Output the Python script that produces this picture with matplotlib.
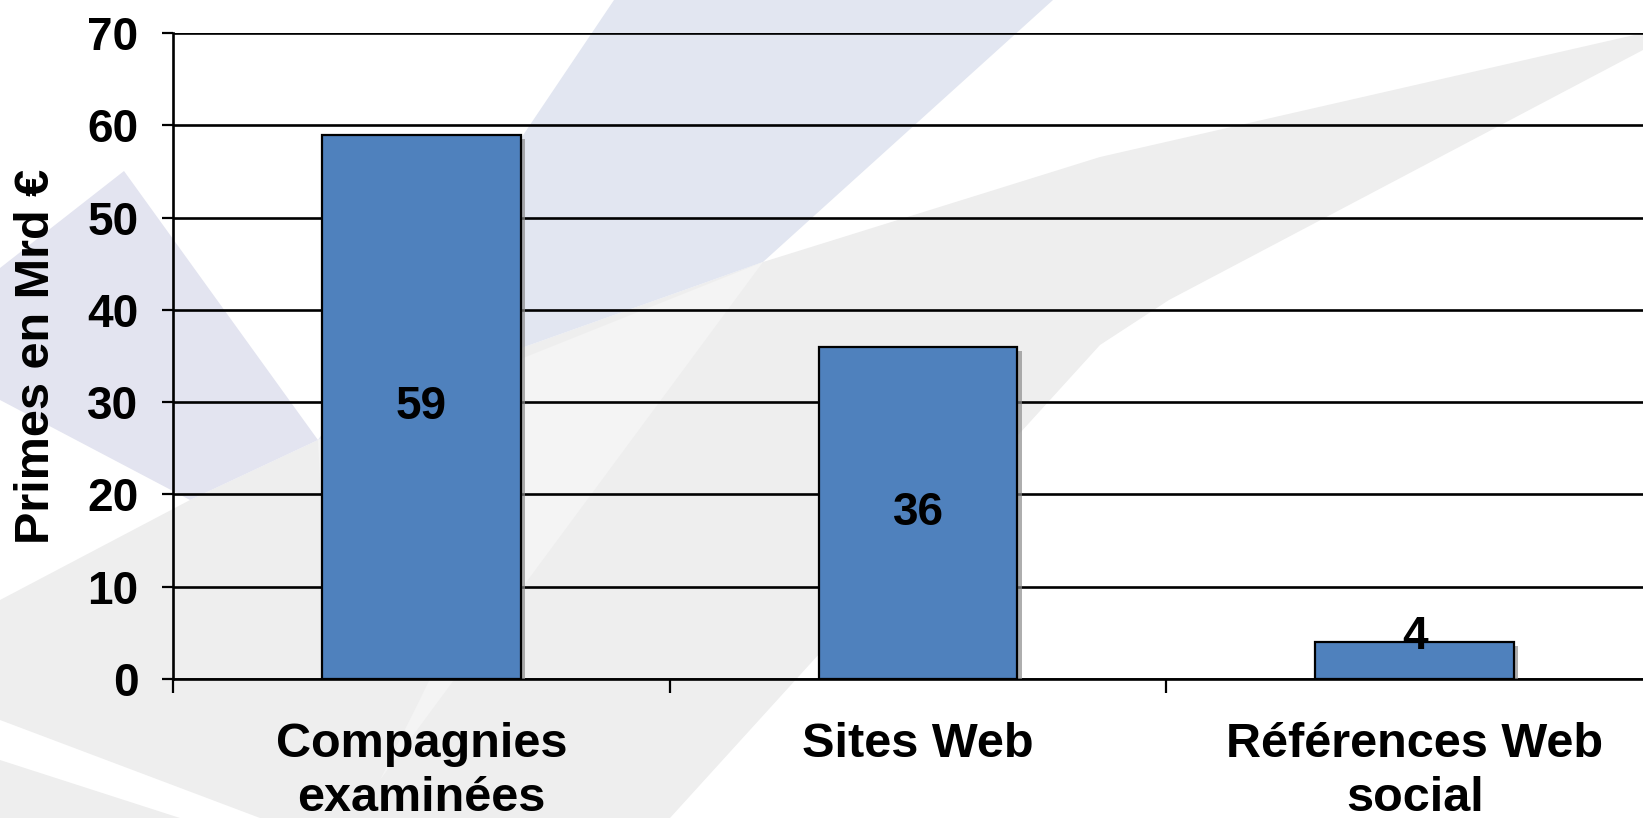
import matplotlib
matplotlib.use("Agg")
import matplotlib.pyplot as plt
import matplotlib.patheffects as pe
from matplotlib.patches import Polygon

# data
categories = ["Compagnies\nexaminées", "Sites Web", "Références Web\nsocial"]
values = [59, 36, 4]
value_labels = ["59", "36", "4"]
yticks = [0, 10, 20, 30, 40, 50, 60, 70]

W, H = 1643, 818
plt.rcParams["font.family"] = ["Liberation Sans", "DejaVu Sans"]
plt.rcParams["font.weight"] = "bold"

fig = plt.figure(figsize=(W / 100, H / 100), dpi=100, facecolor="white")


def px(points):
    # pixel coords (y down) -> figure fraction
    return [(x / W, 1 - y / H) for x, y in points]


# decorative background swooshes
bg_shapes = [
    ([(0, 600), (190, 500), (318, 440), (527, 346), (763, 262), (1100, 157), (1643, 33),
      (1643, 50), (1169, 300), (1100, 345), (670, 818), (260, 818), (0, 720)], "#eeeeee"),
    ([(0, 760), (0, 818), (180, 818)], "#eeeeee"),
    ([(0, 268), (124, 171), (318, 440), (190, 500), (0, 400)], "#e3e4f0"),
    ([(614, 0), (1053, 0), (763, 262), (527, 346), (318, 440)], "#e2e6f1"),
    ([(763, 262), (318, 440), (330, 679), (430, 679), (380, 780)], "#f4f4f4"),
]
for pts, col in bg_shapes:
    fig.add_artist(Polygon(px(pts), closed=True, transform=fig.transFigure,
                           facecolor=col, edgecolor="none", zorder=-10))

ax = fig.add_axes([173 / W, 1 - 679 / H, 1 - 173 / W, (679 - 33) / H])
ax.set_facecolor("none")

x = list(range(len(categories)))
bars = ax.bar(x, values, width=0.4, color="#4f81bd", edgecolor="black",
              linewidth=1.6, zorder=3)
for b in bars:
    b.set_path_effects([pe.SimplePatchShadow(offset=(3, -3), shadow_rgbFace="#8c8c8c", alpha=0.7),
                        pe.Normal()])

for xi, v, lab in zip(x, values, value_labels):
    ly = v / 2 if v > 10 else v + 0.6
    ax.text(xi, ly, lab, ha="center", va="center", fontsize=33,
            fontweight="bold", color="black", zorder=5)

ax.set_ylim(0, 70)
ax.set_xlim(-0.5, -0.5 + (W - 173) / 496.7)
ax.set_yticks(yticks)
ax.set_yticklabels([str(t) for t in yticks], fontsize=33, fontweight="bold")
ax.set_xticks(x)
ax.set_xticklabels(categories, fontsize=35, fontweight="bold", linespacing=1.25)
ax.set_xticks([-0.5, 0.5, 1.5], minor=True)
ax.tick_params(axis="x", which="major", length=0, pad=31)
ax.tick_params(axis="x", which="minor", length=10, width=1.6, direction="out")
ax.tick_params(axis="y", length=8, width=1.6, direction="out", pad=17)

ax.yaxis.grid(True, color="black", linewidth=1.9)
ax.set_axisbelow(True)
for side in ["top", "right"]:
    ax.spines[side].set_visible(False)
for side in ["left", "bottom"]:
    ax.spines[side].set_color("black")
    ax.spines[side].set_linewidth(1.9)

ax.set_ylabel("Primes en Mrd €", fontsize=35, fontweight="bold", va="center")
ax.yaxis.set_label_coords((37 - 173) / (W - 173), 0.5)

fig.savefig("out.png", dpi=100, facecolor="white")
